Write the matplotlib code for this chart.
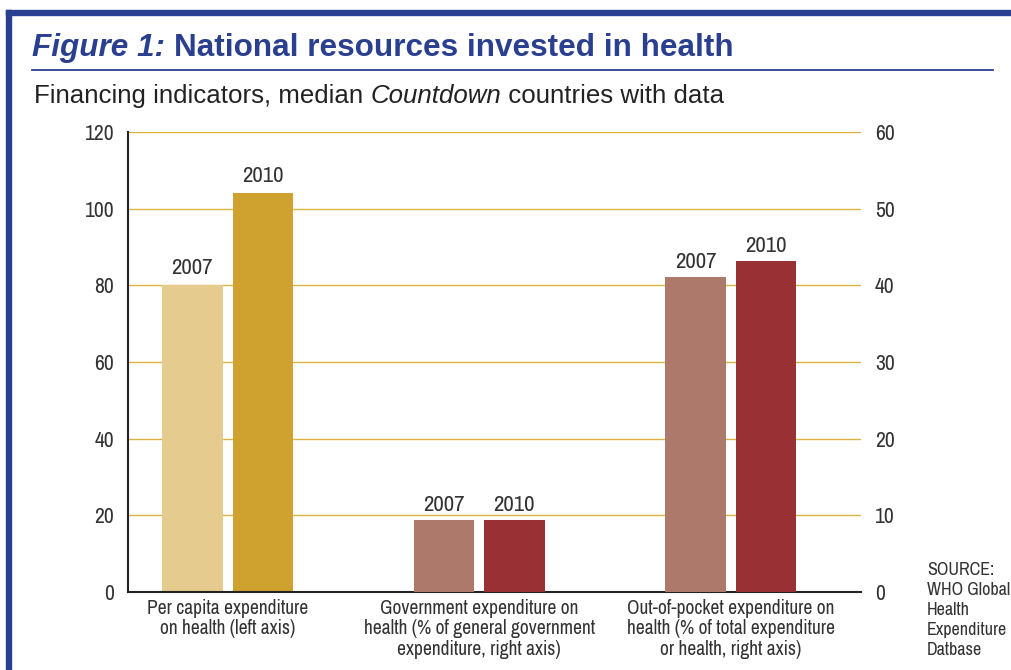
import matplotlib
matplotlib.use("Agg")
import matplotlib.pyplot as plt
import matplotlib.font_manager as fm
import numpy as np
from matplotlib.patches import Rectangle
from matplotlib.lines import Line2D

# look for a narrow face, like the condensed Helvetica of the original
narrow = None
for f in fm.fontManager.ttflist:
    if 'Narrow' in f.name or 'Condensed' in f.name:
        narrow = f.name
        break
if narrow is None:
    narrow = 'Liberation Sans'
plt.rcParams['font.family'] = [narrow, 'DejaVu Sans']
wide = ['Liberation Sans', 'DejaVu Sans']

# data
categories = ["Per capita expenditure\non health (left axis)",
              "Government expenditure on\nhealth (% of general government\nexpenditure, right axis)",
              "Out-of-pocket expenditure on\nhealth (% of total expenditure\nor health, right axis)"]
years = ["2007", "2010"]
per_capita = [80, 104]          # left axis
gov_share = [9.4, 9.4]          # right axis
oop_share = [41.1, 43.2]        # right axis
left_ticks = [0, 20, 40, 60, 80, 100, 120]
right_ticks = [0, 10, 20, 30, 40, 50, 60]

gold = ["#e5cb8e", "#cfa22f"]
red = ["#ad796b", "#983034"]
grid_c = "#dcb33e"
txt_c = "#333333"
blue = "#2a3f8f"

W, H = 1011, 670
fig = plt.figure(figsize=(W / 100, H / 100), dpi=100)

ax = fig.add_axes([128 / W, 1 - 592 / H, 733 / W, 460 / H])
ax2 = ax.twinx()

x = np.arange(len(categories))
bw = 0.24
off = 0.14

for i in range(2):
    ax.bar(x[0] + (i * 2 - 1) * off, per_capita[i], width=bw, color=gold[i], zorder=3)
    ax.text(x[0] + (i * 2 - 1) * off, per_capita[i] + 2, years[i], ha='center', va='bottom',
            fontsize=16.5, color=txt_c)
    ax2.bar(x[1] + (i * 2 - 1) * off, gov_share[i], width=bw, color=red[i], zorder=3)
    ax2.text(x[1] + (i * 2 - 1) * off, gov_share[i] + 0.6, years[i], ha='center', va='bottom',
             fontsize=16.5, color=txt_c)
    ax2.bar(x[2] + (i * 2 - 1) * off, oop_share[i], width=bw, color=red[i], zorder=3)
    ax2.text(x[2] + (i * 2 - 1) * off, oop_share[i] + 0.6, years[i], ha='center', va='bottom',
             fontsize=16.5, color=txt_c)

ax.set_xlim(-0.396, 2.518)
ax.set_ylim(0, 120)
ax2.set_ylim(0, 60)
ax.set_yticks(left_ticks)
ax2.set_yticks(right_ticks)
for t in left_ticks[1:]:
    ax.axhline(t, color=grid_c, lw=1, zorder=1)

ax.set_xticks(x)
ax.set_xticklabels(categories, fontsize=14, color=txt_c, linespacing=1.1)
ax.tick_params(axis='x', length=0, pad=5)
ax.tick_params(axis='y', length=0, pad=10, labelsize=15.5, labelcolor=txt_c)
ax2.tick_params(axis='y', length=0, pad=10, labelsize=15.5, labelcolor=txt_c)

for a in (ax, ax2):
    for s in a.spines.values():
        s.set_visible(False)
for s in ('left', 'bottom'):
    ax.spines[s].set_visible(True)
    ax.spines[s].set_color('#222222')
    ax.spines[s].set_linewidth(1.5)
ax.spines['bottom'].set_zorder(4)

# frame
fig.patches.append(Rectangle((6 / W, 0), 5 / W, 1 - 10 / H, transform=fig.transFigure,
                             color=blue, zorder=0))
fig.patches.append(Rectangle((6 / W, 1 - 15 / H), 1 - 6 / W, 5 / H, transform=fig.transFigure,
                             color=blue, zorder=0))
fig.lines.append(Line2D([32 / W, 993 / W], [1 - 70 / H, 1 - 70 / H], transform=fig.transFigure,
                        color=blue, lw=1.3))

fig.canvas.draw()
r = fig.canvas.get_renderer()


def run_of_text(parts, x0, y0, target_w, size, family, color, weight='normal'):
    # draw text pieces one after another on a baseline, scaled to target width
    for attempt in range(2):
        xs = x0
        made = []
        for s, style in parts:
            t = fig.text(xs / W, 1 - y0 / H, s, fontsize=size, fontstyle=style, fontweight=weight,
                         family=family, color=color, va='baseline')
            made.append(t)
            xs = t.get_window_extent(r).x1
        if attempt == 0:
            width = xs - x0
            for t in made:
                t.remove()
            size = size * target_w / width


# title
run_of_text([("Figure 1: ", 'italic'), ("National resources invested in health", 'normal')],
            32, 56, 699, 22, wide, blue, weight='bold')

# subtitle
run_of_text([("Financing indicators, median ", 'normal'), ("Countdown", 'italic'),
             (" countries with data", 'normal')],
            34, 103, 691, 17, wide, '#222222')

fig.text(927 / W, 1 - 562 / H, "SOURCE:\nWHO Global\nHealth\nExpenditure\nDatbase", fontsize=13,
         color=txt_c, va='top', ha='left', linespacing=1.3)

fig.savefig("out.png", dpi=100)
